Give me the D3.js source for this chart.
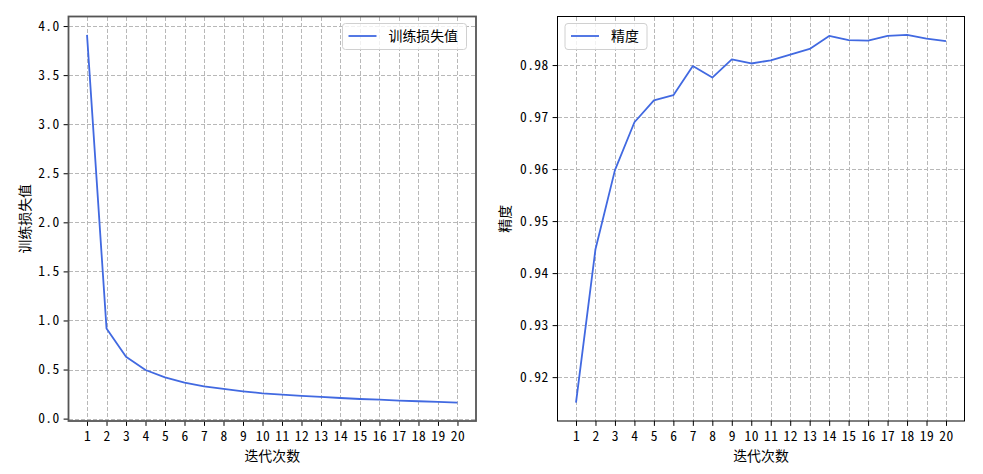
<!DOCTYPE html>
<html>
<head>
<meta charset="utf-8">
<script src="https://cdn.jsdelivr.net/npm/d3@7"></script>
<style>
  html, body { margin: 0; padding: 0; background: #fff; }
  svg { display: block; }
  .tick text { font-family: "Noto Sans Mono CJK SC", "Noto Sans CJK SC", "DejaVu Sans Mono", monospace; font-size: 13.5px; fill: #000; letter-spacing: 0.4px; }
  .lbl { font-family: "Noto Sans CJK SC", sans-serif; font-size: 13.9px; fill: #000; }
</style>
</head>
<body>
<svg id="chart" width="983" height="474"></svg>
<script>
// ---- data ----
const epochs = [1,2,3,4,5,6,7,8,9,10,11,12,13,14,15,16,17,18,19,20];
const lossValues = [3.91, 0.919, 0.630, 0.495, 0.421, 0.366, 0.329, 0.302, 0.278, 0.258,
                    0.244, 0.231, 0.221, 0.210, 0.200, 0.193, 0.183, 0.177, 0.170, 0.163];
const accValues = [0.9151, 0.9446, 0.9598, 0.9690, 0.9732, 0.9742, 0.9798, 0.9776, 0.9811, 0.9803,
                   0.9809, 0.9820, 0.9831, 0.9856, 0.9848, 0.9847, 0.9856, 0.9858, 0.9851, 0.9846];
const lossTicks = [0.0, 0.5, 1.0, 1.5, 2.0, 2.5, 3.0, 3.5, 4.0];
const accTicks = [0.92, 0.93, 0.94, 0.95, 0.96, 0.97, 0.98];
const xLabel = "迭代次数";
const lossLabel = "训练损失值";
const accLabel = "精度";

const svg = d3.select("#chart");
const lineColor = "#4169e1";

function padDomain(arr, frac) {
  const [lo, hi] = d3.extent(arr);
  const m = (hi - lo) * frac;
  return [lo - m, hi + m];
}

function drawPanel(opts) {
  const { left, right, top, bottom, values, yTicks, yFmt, yLabel, yLabelX,
          legendX, legendW, spineColor, spineWidth } = opts;
  const x = d3.scaleLinear().domain(padDomain(epochs, 0.05)).range([left, right]);
  const y = d3.scaleLinear().domain(padDomain(values, 0.05)).range([bottom, top]);
  const g = svg.append("g");

  // grid
  const grid = g.append("g").attr("stroke", "#b8b8b8").attr("stroke-width", 1)
    .attr("stroke-dasharray", "4,2").attr("shape-rendering", "crispEdges");
  grid.selectAll("line.vx").data(epochs).join("line")
    .attr("x1", d => Math.round(x(d)) + 0.5).attr("x2", d => Math.round(x(d)) + 0.5)
    .attr("y1", top).attr("y2", bottom);
  grid.selectAll("line.hy").data(yTicks).join("line")
    .attr("y1", d => Math.round(y(d)) + 0.5).attr("y2", d => Math.round(y(d)) + 0.5)
    .attr("x1", left).attr("x2", right);

  // line
  const line = d3.line().x((d, i) => x(epochs[i])).y(d => y(d));
  g.append("path").datum(values).attr("fill", "none").attr("stroke", lineColor)
    .attr("stroke-width", 1.8).attr("stroke-linejoin", "round").attr("d", line);

  // axes
  const xAxis = d3.axisBottom(x).tickValues(epochs).tickSize(4.9).tickPadding(4).tickFormat(d3.format("d"));
  const gx = g.append("g").attr("transform", `translate(0,${bottom})`).call(xAxis);
  const yAxis = d3.axisLeft(y).tickValues(yTicks).tickSize(4.9).tickPadding(4).tickFormat(yFmt);
  const gy = g.append("g").attr("transform", `translate(${left},0)`).call(yAxis);
  [gx, gy].forEach(a => {
    a.select(".domain").remove();
    a.selectAll(".tick line").attr("stroke", "#000").attr("stroke-width", 1);
    a.selectAll(".tick text").attr("fill", "#000");
  });
  gx.selectAll(".tick text").attr("dy", "0.85em");

  // spines
  g.append("rect").attr("x", left).attr("y", top).attr("width", right - left).attr("height", bottom - top)
    .attr("fill", "none").attr("stroke", spineColor).attr("stroke-width", spineWidth);

  // labels
  g.append("text").attr("class", "lbl").attr("x", (left + right) / 2).attr("y", 461)
    .attr("text-anchor", "middle").text(xLabel);
  g.append("text").attr("class", "lbl")
    .attr("transform", `translate(${yLabelX},${(top + bottom) / 2}) rotate(-90)`)
    .attr("text-anchor", "middle").text(yLabel);

  // legend
  const lg = g.append("g").attr("transform", `translate(${legendX},23.5)`);
  lg.append("rect").attr("width", legendW).attr("height", 26).attr("rx", 3)
    .attr("fill", "#fff").attr("fill-opacity", 0.8).attr("stroke", "#d0d0d0").attr("stroke-width", 1);
  lg.append("line").attr("x1", 6).attr("x2", 34).attr("y1", 12.5).attr("y2", 12.5)
    .attr("stroke", lineColor).attr("stroke-width", 1.8);
  lg.append("text").attr("class", "lbl").attr("x", 46).attr("y", 17.5).text(yLabel);
}

drawPanel({
  left: 68.5, right: 476, top: 16.5, bottom: 421, values: lossValues,
  yTicks: lossTicks, yFmt: d3.format(".1f"), yLabel: lossLabel, yLabelX: 30,
  legendX: 342.5, legendW: 124, spineColor: "#555", spineWidth: 1.8
});
drawPanel({
  left: 557.5, right: 964.5, top: 16.5, bottom: 421, values: accValues,
  yTicks: accTicks, yFmt: d3.format(".2f"), yLabel: accLabel, yLabelX: 510,
  legendX: 565, legendW: 82, spineColor: "#000", spineWidth: 1
});
</script>
</body>
</html>
